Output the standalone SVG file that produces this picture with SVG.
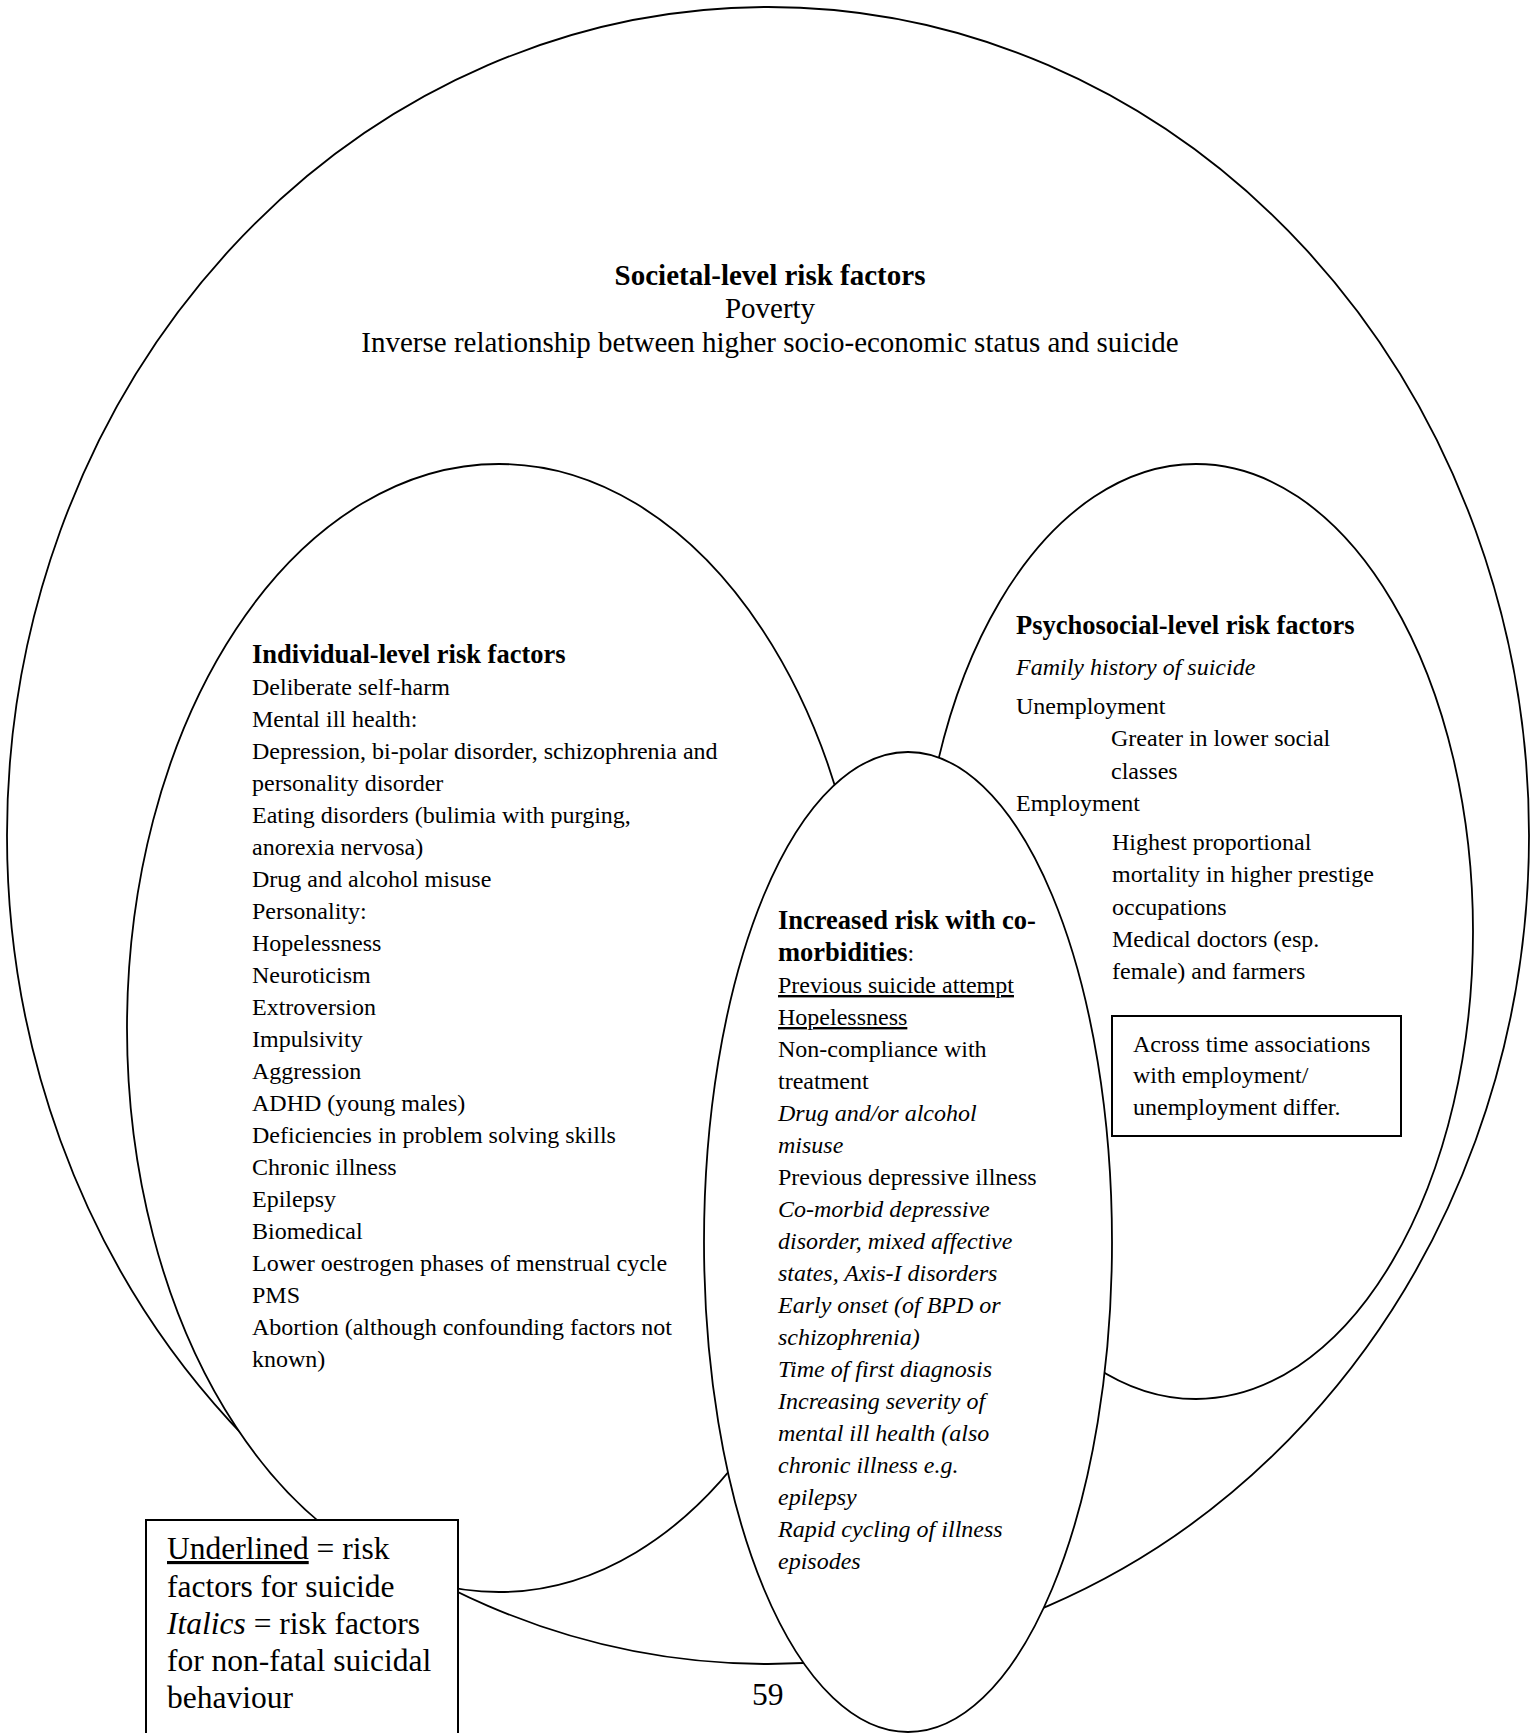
<svg xmlns="http://www.w3.org/2000/svg" width="1531" height="1733" viewBox="0 0 1531 1733">
<style>
.shape{fill:#fff;stroke:#000;stroke-width:1.8}
.box{fill:#fff;stroke:#000;stroke-width:2}
text{font-family:"Liberation Serif","Times New Roman",serif;fill:#000}
.soc{font-size:29px}
.h{font-size:26.5px;font-weight:bold}
.t{font-size:24px}
.i{font-style:italic}
.u{text-decoration:underline}
.leg{font-size:31.5px}
</style>
<rect width="1531" height="1733" fill="#fff"/>
<g id="societal">
<ellipse class="shape" cx="768" cy="835.5" rx="761" ry="828.5"/>
<text class="soc" text-anchor="middle" x="770" y="285" font-weight="bold">Societal-level risk factors</text>
<text class="soc" text-anchor="middle" x="770" y="318">Poverty</text>
<text class="soc" text-anchor="middle" x="770" y="352">Inverse relationship between higher socio-economic status and suicide</text>
</g>
<g id="individual">
<ellipse class="shape" cx="499" cy="1028" rx="372" ry="564"/>
<text class="h" x="252" y="663">Individual-level risk factors</text>
<g class="t">
<text x="252" y="695">Deliberate self-harm</text>
<text x="252" y="727">Mental ill health:</text>
<text x="252" y="759">Depression, bi-polar disorder, schizophrenia and</text>
<text x="252" y="791">personality disorder</text>
<text x="252" y="823">Eating disorders (bulimia with purging,</text>
<text x="252" y="855">anorexia nervosa)</text>
<text x="252" y="887">Drug and alcohol misuse</text>
<text x="252" y="919">Personality:</text>
<text x="252" y="951">Hopelessness</text>
<text x="252" y="983">Neuroticism</text>
<text x="252" y="1015">Extroversion</text>
<text x="252" y="1047">Impulsivity</text>
<text x="252" y="1079">Aggression</text>
<text x="252" y="1111">ADHD (young males)</text>
<text x="252" y="1143">Deficiencies in problem solving skills</text>
<text x="252" y="1175">Chronic illness</text>
<text x="252" y="1207">Epilepsy</text>
<text x="252" y="1239">Biomedical</text>
<text x="252" y="1271">Lower oestrogen phases of menstrual cycle</text>
<text x="252" y="1303">PMS</text>
<text x="252" y="1335">Abortion (although confounding factors not</text>
<text x="252" y="1367">known)</text>
</g>
</g>
<g id="psychosocial">
<ellipse class="shape" cx="1196" cy="931.5" rx="277" ry="467.5"/>
<text class="h" x="1016" y="634">Psychosocial-level risk factors</text>
<g class="t">
<text class="i" x="1016" y="675">Family history of suicide</text>
<text x="1016" y="714">Unemployment</text>
<text x="1111" y="746">Greater in lower social</text>
<text x="1111" y="779">classes</text>
<text x="1016" y="811">Employment</text>
<text x="1112" y="850">Highest proportional</text>
<text x="1112" y="882">mortality in higher prestige</text>
<text x="1112" y="915">occupations</text>
<text x="1112" y="947">Medical doctors (esp.</text>
<text x="1112" y="979">female) and farmers</text>
</g>
</g>
<g id="across-time">
<rect class="box" x="1112" y="1016" width="289" height="120"/>
<g class="t">
<text x="1133" y="1052">Across time associations</text>
<text x="1133" y="1083">with employment/</text>
<text x="1133" y="1115">unemployment differ.</text>
</g>
</g>
<g id="comorbidities">
<ellipse class="shape" cx="908" cy="1242" rx="204" ry="490"/>
<text class="h" x="778" y="929">Increased risk with co-</text>
<text x="778" y="961"><tspan class="h">morbidities</tspan><tspan class="t">:</tspan></text>
<g class="t">
<text class="u" x="778" y="993">Previous suicide attempt</text>
<text class="u" x="778" y="1025">Hopelessness</text>
<text x="778" y="1057">Non-compliance with</text>
<text x="778" y="1089">treatment</text>
<text class="i" x="778" y="1121">Drug and/or alcohol</text>
<text class="i" x="778" y="1153">misuse</text>
<text x="778" y="1185">Previous depressive illness</text>
<text class="i" x="778" y="1217">Co-morbid depressive</text>
<text class="i" x="778" y="1249">disorder, mixed affective</text>
<text class="i" x="778" y="1281">states, Axis-I disorders</text>
<text class="i" x="778" y="1313">Early onset (of BPD or</text>
<text class="i" x="778" y="1345">schizophrenia)</text>
<text class="i" x="778" y="1377">Time of first diagnosis</text>
<text class="i" x="778" y="1409">Increasing severity of</text>
<text class="i" x="778" y="1441">mental ill health (also</text>
<text class="i" x="778" y="1473">chronic illness e.g.</text>
<text class="i" x="778" y="1505">epilepsy</text>
<text class="i" x="778" y="1537">Rapid cycling of illness</text>
<text class="i" x="778" y="1569">episodes</text>
</g>
</g>
<g id="legend">
<rect class="box" x="146" y="1520" width="312" height="230"/>
<g class="leg">
<text x="167" y="1559"><tspan class="u">Underlined</tspan> = risk</text>
<text x="167" y="1597">factors for suicide</text>
<text x="167" y="1634"><tspan class="i">Italics</tspan> = risk factors</text>
<text x="167" y="1671">for non-fatal suicidal</text>
<text x="167" y="1708">behaviour</text>
</g>
</g>
<g id="connectors"></g>
<text class="leg" x="752" y="1705">59</text>
</svg>
